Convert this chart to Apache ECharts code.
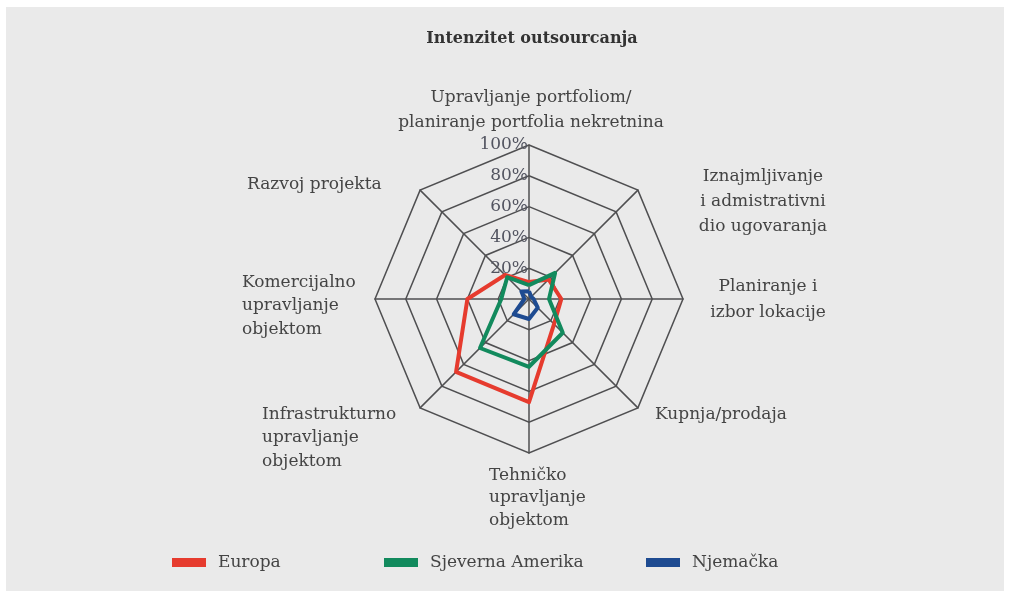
<!DOCTYPE html>
<html>
<head>
<meta charset="utf-8">
<script src="https://cdn.jsdelivr.net/npm/echarts@6/dist/echarts.min.js"></script>
<style>
  html, body { margin: 0; padding: 0; background: #fff; }
  #chart { width: 1010px; height: 593px; }
</style>
</head>
<body>
<div id="chart"></div>
<script>
// indicators in echarts order (counter-clockwise from the top)
var categories = [
    'Upravljanje portfoliom/\nplaniranje portfolia nekretnina',
    'Razvoj projekta',
    'Komercijalno\nupravljanje\nobjektom',
    'Infrastrukturno\nupravljanje\nobjektom',
    'Tehničko\nupravljanje\nobjektom',
    'Kupnja/prodaja',
    'Planiranje i\nizbor lokacije',
    'Iznajmljivanje\ni admistrativni\ndio ugovaranja'
];
var europa = [11, 22, 40, 67, 67, 23, 21, 18];
var sjevernaAmerika = [9, 20, 18, 45, 44, 31, 13, 24];
var njemacka = [5, 7, 3, 14, 13, 8, 3, 2];
var seriesNames = ['Europa', 'Sjeverna Amerika', 'Njemačka'];
var tickValues = [20, 40, 60, 80, 100];

var colors = ['#e63b2e', '#128a5d', '#1e4b91'];
var font = 'DejaVu Serif';

// where each category label sits: [x, y, align, lineHeight]
var labelPos = [
    [531, 110, 'center', 25],
    [247, 185, 'left', 23],
    [242, 306, 'left', 23.5],
    [262, 438, 'left', 23.5],
    [489, 498, 'left', 22.5],
    [655, 415, 'left', 23],
    [768, 300, 'center', 26],
    [763, 202, 'center', 25]
];

var chart = echarts.init(document.getElementById('chart'));

var indicator = categories.map(function (c, i) {
    var ind = { name: c, max: tickValues[tickValues.length - 1] };
    if (i === 0) {
        ind.axisLabel = {
            show: true,
            showMinLabel: false,
            formatter: '{value}%',
            color: '#525460',
            fontSize: 17,
            fontFamily: font,
            margin: 1
        };
    }
    return ind;
});

var graphics = [{
    type: 'rect',
    z: -10,
    silent: true,
    shape: { x: 6, y: 7, width: 998, height: 584 },
    style: { fill: '#eaeaea' }
}];
categories.forEach(function (c, i) {
    var p = labelPos[i];
    graphics.push({
        type: 'text',
        x: p[0],
        y: p[1],
        style: {
            text: c,
            fill: '#444',
            font: '17px "DejaVu Serif"',
            textAlign: p[2],
            textVerticalAlign: 'middle',
            lineHeight: p[3]
        }
    });
});

// legend positions are uneven in the original, so one legend each
var legendLeft = [172, 384, 646];
var legends = seriesNames.map(function (n, i) {
    return {
        data: [n],
        left: legendLeft[i],
        top: 554,
        padding: 0,
        icon: 'rect',
        itemWidth: 34,
        itemHeight: 9,
        textStyle: { fontSize: 17, fontFamily: font, color: '#444', padding: [0, 0, 0, 7] }
    };
});

var option = {
    color: colors,
    animation: false,
    title: {
        text: 'Intenzitet outsourcanja',
        left: 532,
        top: 31,
        padding: 0,
        textAlign: 'center',
        textStyle: { fontSize: 16, fontWeight: 'bold', fontFamily: font, color: '#333' }
    },
    legend: legends,
    graphic: graphics,
    radar: {
        center: [529, 299],
        radius: 154,
        shape: 'polygon',
        splitNumber: tickValues.length,
        axisName: { show: false },
        axisLabel: { show: false },
        axisTick: { show: false },
        splitArea: { show: false },
        axisLine: { lineStyle: { color: '#4f4f51', width: 1.5 } },
        splitLine: { lineStyle: { color: '#4f4f51', width: 1.5 } },
        indicator: indicator
    },
    series: [{
        type: 'radar',
        symbol: 'none',
        lineStyle: { width: 4 },
        data: [
            { name: seriesNames[0], value: europa, lineStyle: { color: colors[0] } },
            { name: seriesNames[1], value: sjevernaAmerika, lineStyle: { color: colors[1] } },
            { name: seriesNames[2], value: njemacka, lineStyle: { color: colors[2] } }
        ]
    }]
};

chart.setOption(option);
</script>
</body>
</html>
